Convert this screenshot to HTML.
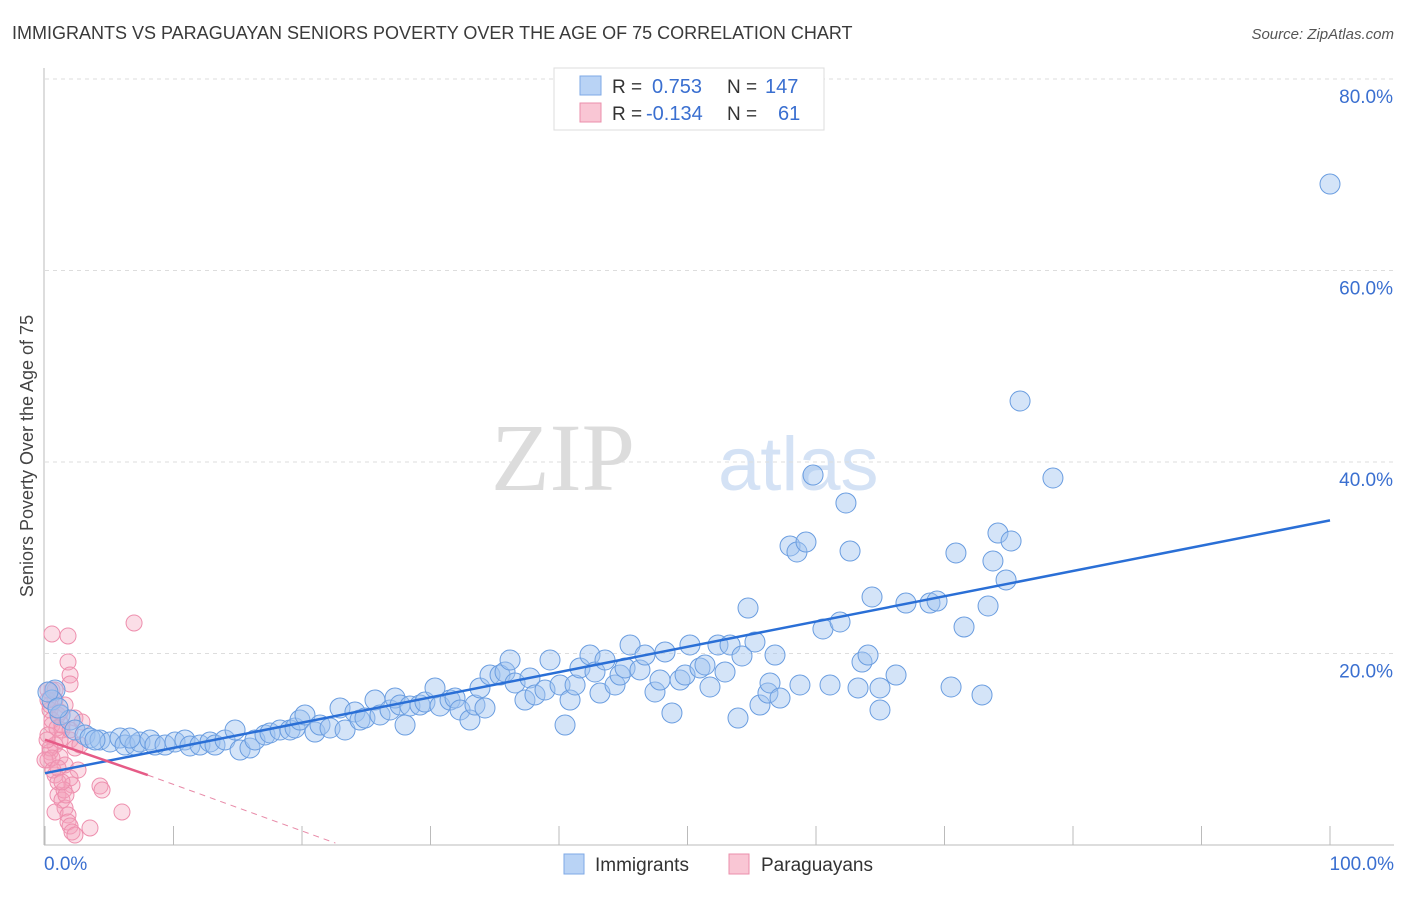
<!DOCTYPE html>
<html><head><meta charset="utf-8"><style>
body{margin:0;background:#fff;font-family:"Liberation Sans",sans-serif;}
#wrap{position:relative;width:1406px;height:892px;}
</style></head><body>
<div id="wrap">
<svg id="svg" width="1406" height="892" xmlns="http://www.w3.org/2000/svg">
<text x="12" y="39" font-size="18" fill="#3a3a3a">IMMIGRANTS VS PARAGUAYAN SENIORS POVERTY OVER THE AGE OF 75 CORRELATION CHART</text>
<text x="1394" y="39" font-size="15" fill="#555" text-anchor="end" font-style="italic">Source: ZipAtlas.com</text>
<text transform="translate(33,456) rotate(-90)" font-size="18" fill="#444" text-anchor="middle">Seniors Poverty Over the Age of 75</text>
<text x="635" y="490" font-size="96" fill="#dcdcdc" text-anchor="end" font-family="Liberation Serif,serif">ZIP</text>
<text x="718" y="490" font-size="76" fill="#d4e2f5">atlas</text>
<g id="grid"></g><g id="pink"></g><g id="blue"></g><g id="trend"></g>
<g>
<rect x="554" y="68" width="270" height="62" fill="#fff" stroke="#ddd"/>
<rect x="580" y="76" width="21" height="19" fill="#b9d3f5" stroke="#7ea8e6"/>
<rect x="580" y="103" width="21" height="19" fill="#f9c6d4" stroke="#eb8fab"/>
<text x="612" y="93" font-size="19" fill="#333">R = </text><text x="652" y="93" font-size="20" fill="#3a6fd0">0.753</text>
<text x="727" y="93" font-size="19" fill="#333">N = </text><text x="765" y="93" font-size="20" fill="#3a6fd0">147</text>
<text x="612" y="120" font-size="19" fill="#333">R = </text><text x="646" y="120" font-size="20" fill="#3a6fd0">-0.134</text>
<text x="727" y="120" font-size="19" fill="#333">N = </text><text x="778" y="120" font-size="20" fill="#3a6fd0">61</text>
</g>
<g>
<rect x="564" y="854" width="20" height="20" fill="#b9d3f5" stroke="#7ea8e6"/>
<text x="595" y="871" font-size="19" fill="#333">Immigrants</text>
<rect x="729" y="854" width="20" height="20" fill="#f9c6d4" stroke="#eb8fab"/>
<text x="761" y="871" font-size="19" fill="#333">Paraguayans</text>
</g>
</svg></div>
<script>
const xTicks=[0,10,20,30,40,50,60,70,80,90,100];
const yTicks=[20,40,60,80];
const bluePx=[[55,690],[52,700],[60,715],[70,720],[75,730],[85,735],[90,738],[100,740],[110,742],[120,738],[125,745],[135,745],[140,742],[150,740],[155,745],[165,745],[175,742],[185,740],[190,746],[200,745],[210,742],[215,745],[225,740],[235,730],[240,750],[250,748],[255,740],[265,735],[270,733],[280,730],[290,730],[295,728],[300,720],[305,715],[315,732],[320,725],[330,728],[340,708],[345,730],[355,712],[360,720],[365,718],[375,700],[380,715],[390,710],[395,698],[400,705],[405,725],[410,706],[420,705],[425,702],[435,688],[440,706],[450,700],[455,698],[460,710],[470,720],[475,705],[480,688],[485,708],[490,675],[500,675],[505,672],[510,660],[515,683],[525,700],[530,678],[535,695],[545,690],[550,660],[560,685],[565,725],[570,700],[575,685],[580,668],[590,655],[595,672],[600,693],[605,660],[615,685],[620,675],[625,668],[630,645],[640,670],[645,655],[655,692],[660,680],[665,652],[672,713],[680,680],[685,675],[690,645],[700,668],[705,665],[710,687],[718,645],[725,672],[730,645],[738,718],[742,656],[748,608],[755,642],[760,705],[768,693],[770,683],[775,655],[780,698],[790,546],[797,552],[800,685],[806,542],[813,475],[823,629],[830,685],[840,622],[846,503],[850,551],[858,688],[862,662],[868,655],[872,597],[880,688],[880,710],[896,675],[906,603],[930,603],[937,601],[951,687],[956,553],[964,627],[982,695],[988,606],[993,561],[998,533],[1006,580],[1011,541],[1020,401],[1053,478],[1330,184],[48,692],[58,708],[95,740],[130,738]];
const pinkPx=[[52,634],[68,636],[134,623],[68,662],[70,675],[70,684],[52,690],[55,700],[65,705],[50,710],[58,715],[75,718],[82,722],[52,725],[62,730],[48,735],[70,740],[55,745],[75,748],[50,752],[60,757],[48,760],[65,765],[78,770],[55,775],[70,778],[58,782],[72,785],[100,786],[102,790],[58,795],[62,800],[65,808],[55,812],[68,815],[122,812],[68,822],[70,826],[72,832],[75,835],[90,828],[48,690],[50,705],[52,720],[57,728],[60,740],[50,748],[45,760],[53,770],[64,790],[66,795],[48,700],[60,712],[70,730],[80,745],[55,690],[62,725],[47,740],[52,758],[58,768],[62,782]];
// convert reading to data values
const blueX=bluePx.map(p=>+((p[0]-45)/12.85).toFixed(2));
const blueY=bluePx.map(p=>+((845-p[1])/9.575).toFixed(2));
const pinkX=pinkPx.map(p=>+((p[0]-45)/12.85).toFixed(2));
const pinkY=pinkPx.map(p=>+((845-p[1])/9.575).toFixed(2));
const blueTrend=[[0,7.5],[100,33.9]];
const pinkTrend=[[0,11.0],[8,7.3],[22.6,0.2]];
const X=v=>45+v*12.85, Y=v=>845-v*9.575;
const NS='http://www.w3.org/2000/svg';
function mk(t,a,p){const e=document.createElementNS(NS,t);for(const k in a)e.setAttribute(k,a[k]);p.appendChild(e);return e;}
const grid=document.getElementById('grid');
yTicks.forEach(v=>{
 const l=mk('line',{x1:45,x2:1394,y1:Y(v),y2:Y(v),stroke:'#ddd','stroke-dasharray':'4,4'},grid);
 
 
 const t=mk('text',{x:1393,y:Y(v)+24,'font-size':19,fill:'#3a6fd0','text-anchor':'end'},grid);
 t.textContent=v.toFixed(1)+'%';
 
 
});
mk('line',{x1:44,x2:44,y1:68,y2:845,stroke:'#bbb'},grid);
mk('line',{x1:44,x2:1394,y1:845,y2:845,stroke:'#bbb'},grid);
xTicks.forEach(v=>{
 const l=mk('line',{x1:X(v),x2:X(v),y1:826,y2:845,stroke:'#bbb'},grid);
 
 
});
[[0,'0.0%','start',44],[100,'100.0%','end',1394]].forEach(a=>{
 const t=mk('text',{x:a[3],y:870,'font-size':19,fill:'#3a6fd0','text-anchor':a[2]},grid);
 t.textContent=a[1];
 
 
});
const pg=document.getElementById('pink');
pinkX.forEach((x,i)=>{
 const c=mk('circle',{cx:X(x),cy:Y(pinkY[i]),r:8,fill:'rgba(244,160,185,0.35)',stroke:'#ee8fae','stroke-width':1},pg);
 
 
});
const bg=document.getElementById('blue');
blueX.forEach((x,i)=>{
 const c=mk('circle',{cx:X(x),cy:Y(blueY[i]),r:10,fill:'rgba(160,196,240,0.45)',stroke:'#6a9de0','stroke-width':1},bg);
 
 
});
const tg=document.getElementById('trend');
const bl=mk('line',{x1:X(blueTrend[0][0]),y1:Y(blueTrend[0][1]),x2:X(blueTrend[1][0]),y2:Y(blueTrend[1][1]),stroke:'#2a6fd6','stroke-width':2.5},tg);


const pl=mk('line',{x1:X(pinkTrend[0][0]),y1:Y(pinkTrend[0][1]),x2:X(pinkTrend[1][0]),y2:Y(pinkTrend[1][1]),stroke:'#e65b87','stroke-width':2.5},tg);


const pd=mk('line',{x1:X(pinkTrend[1][0]),y1:Y(pinkTrend[1][1]),x2:X(pinkTrend[2][0]),y2:Y(pinkTrend[2][1]),stroke:'#e88aa8','stroke-width':1,'stroke-dasharray':'6,5'},tg);


</script>
</body></html>
